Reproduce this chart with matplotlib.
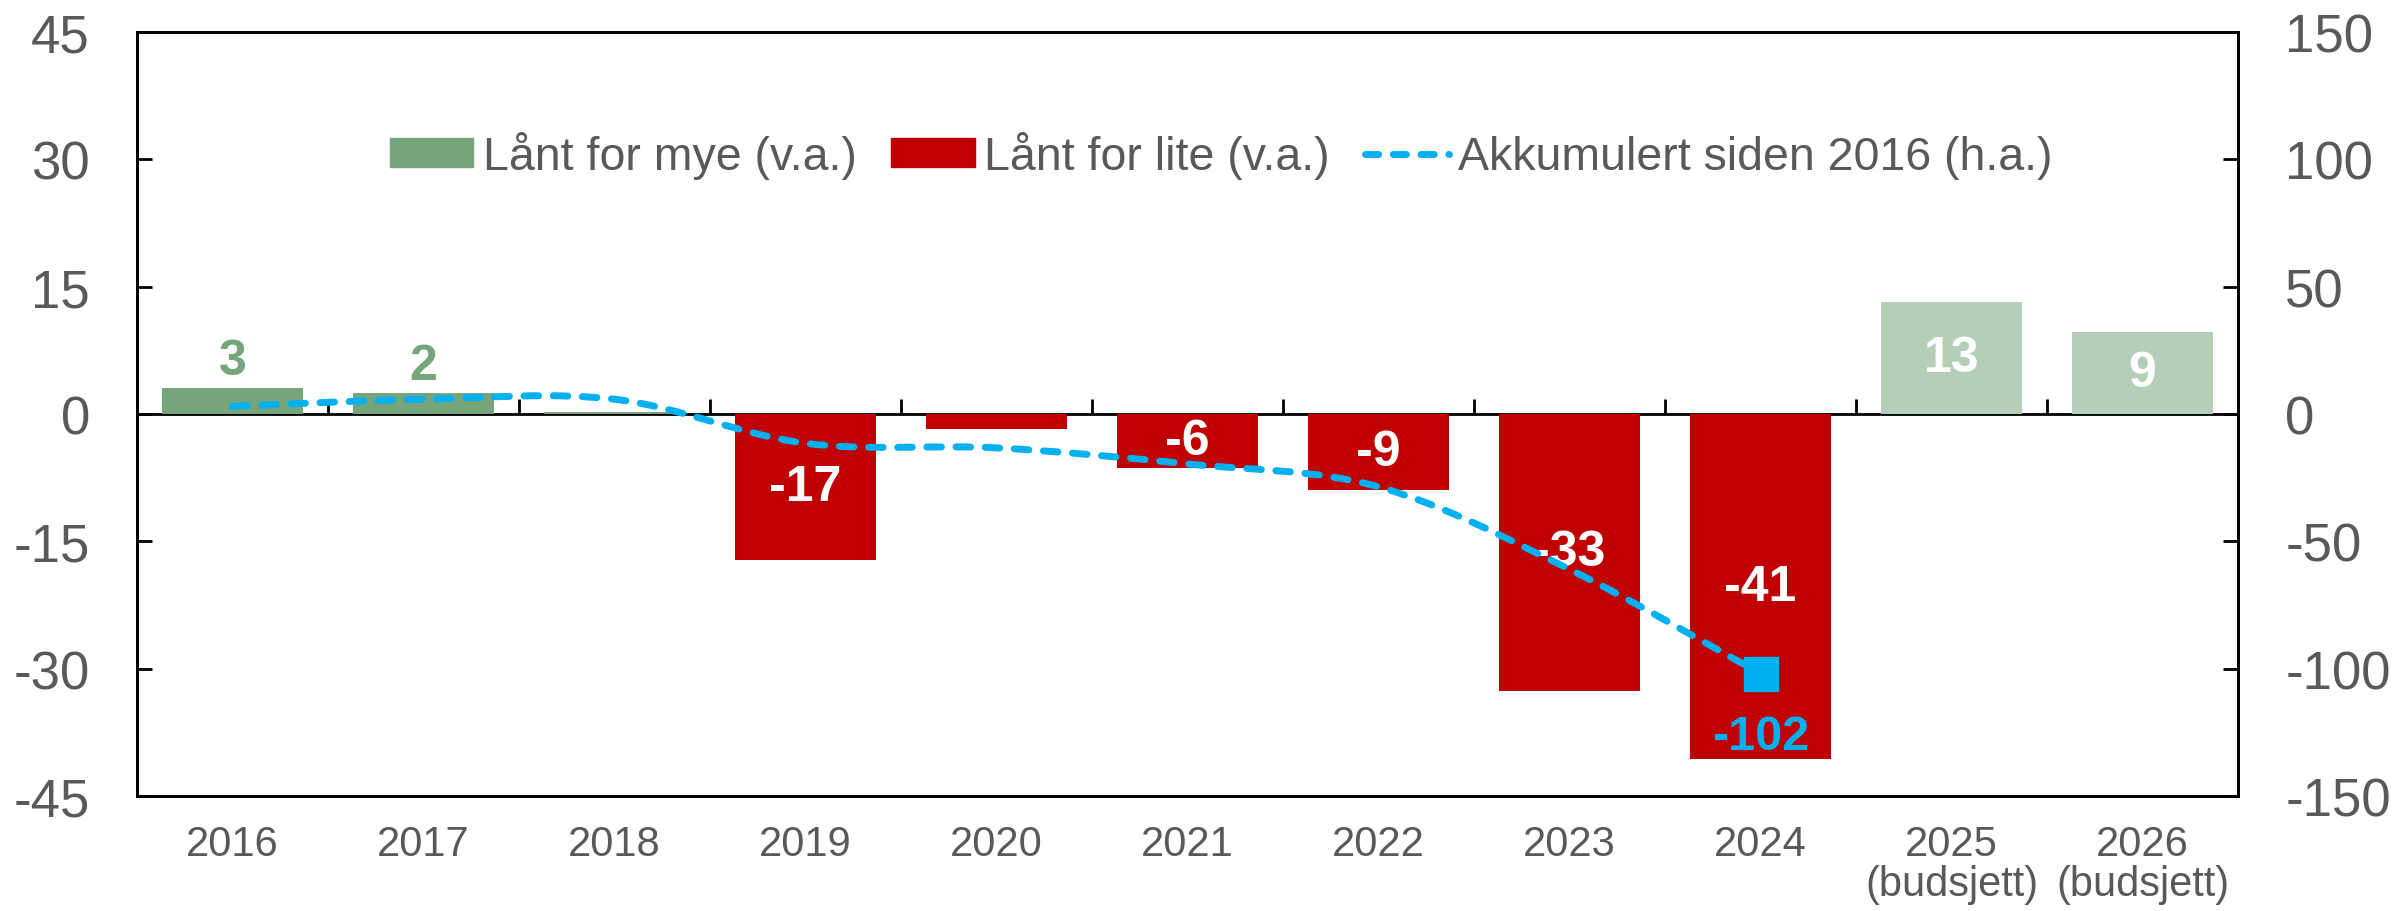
import numpy as np
import matplotlib
matplotlib.use("Agg")
import matplotlib.pyplot as plt
from matplotlib.path import Path
from matplotlib.patches import PathPatch
from matplotlib.lines import Line2D

plt.rcParams['font.family'] = ['Liberation Sans', 'DejaVu Sans']
plt.rcParams['axes.unicode_minus'] = False

years = ["2016", "2017", "2018", "2019", "2020", "2021", "2022", "2023", "2024",
         "2025\n(budsjett)", "2026\n(budsjett)"]
# lånt for mye (v.a.)
mye_vals = [3.1, 2.5, 0.2, 0, 0, 0, 0, 0, 0, 0, 0]
mye_labels = ["3", "2", "", "", "", "", "", "", "", "", ""]
# lånt for lite (v.a.)
lite_vals = [0, 0, 0, -17.2, -1.8, -6.4, -9.0, -32.6, -40.7, 0, 0]
lite_labels = ["", "", "", "-17", "", "-6", "-9", "-33", "-41", "", ""]
# budsjett
budsjett_vals = [0, 0, 0, 0, 0, 0, 0, 0, 0, 13.2, 9.7]
budsjett_labels = ["", "", "", "", "", "", "", "", "", "13", "9"]
# akkumulert siden 2016 (h.a.)
akk_vals = [3.0, 5.8, 5.8, -11.5, -13.3, -19.6, -28.6, -61.0, -102.0]
akk_label = "-102"

GREEN = "#76A57B"
LIGHT = "#B4CEB7"
RED = "#C00000"
CYAN = "#00B0F0"
GREY = "#595959"

fig = plt.figure(figsize=(23.96, 9.12), dpi=100)
ax = fig.add_axes([0.0572, 0.1261, 0.8769, 0.8377])
ax2 = ax.twinx()

x = np.arange(len(years))
w = 0.74
b1 = ax.bar(x, mye_vals, w, color=GREEN, zorder=2)
b2 = ax.bar(x, lite_vals, w, color=RED, zorder=2)
b3 = ax.bar(x, budsjett_vals, w, color=LIGHT, zorder=2)

ax.bar_label(b1, labels=mye_labels, padding=3, color=GREEN, fontsize=36, fontweight='bold')
ax.bar_label(b2, labels=lite_labels, label_type='center', color='white', fontsize=36, fontweight='bold')
ax.bar_label(b3, labels=budsjett_labels, label_type='center', color='white', fontsize=36, fontweight='bold')

ax.set_xlim(-0.5, len(years) - 0.5)
ax.set_ylim(-45, 45)
ax.set_yticks(np.arange(-45, 46, 15))
ax2.set_ylim(-150, 150)
ax2.set_yticks(np.arange(-150, 151, 50))

ax.set_xticks(x)
ax.set_xticklabels(years, linespacing=1.0)
ax.tick_params(axis='x', length=0, pad=20, labelsize=30, labelcolor=GREY)
ax.tick_params(axis='y', direction='in', length=11, width=2, pad=34, labelsize=38, labelcolor=GREY)
ax2.tick_params(axis='y', direction='in', length=11, width=2, pad=34, labelsize=38, labelcolor=GREY)

for a in (ax, ax2):
    for s in a.spines.values():
        s.set_linewidth(2)
        s.set_color('black')

# nullinje med streker mellom kategoriene
zero = ax.secondary_xaxis(0, transform=ax.transData)
zero.set_xticks(np.arange(len(years) - 1) + 0.5)
zero.tick_params(direction='in', length=11, width=2, labelbottom=False)
zero.spines['bottom'].set_linewidth(2)

# glattet linje (h.a.)
pts = np.column_stack([x[:len(akk_vals)], akk_vals])
verts = [tuple(pts[0])]
codes = [Path.MOVETO]
for i in range(len(pts) - 1):
    p0 = pts[max(i - 1, 0)]
    p1 = pts[i]
    p2 = pts[i + 1]
    p3 = pts[min(i + 2, len(pts) - 1)]
    c1 = p1 + (p2 - p0) / 6
    c2 = p2 - (p3 - p1) / 6
    verts += [tuple(c1), tuple(c2), tuple(p2)]
    codes += [Path.CURVE4] * 3
ax2.add_patch(PathPatch(Path(verts, codes), fill=False, edgecolor=CYAN, lw=5,
                        linestyle=(0, (2.1, 2.1)), capstyle='round', zorder=3))
ax2.plot(x[len(akk_vals) - 1], akk_vals[-1], 's', color=CYAN, markersize=24, zorder=4)
ax2.annotate(akk_label, (x[len(akk_vals) - 1], akk_vals[-1]), xytext=(0, -45),
             textcoords='offset points', ha='center', va='center',
             color=CYAN, fontsize=35, fontweight='bold')

handles = [plt.Rectangle((0, 0), 1, 1, color=GREEN),
           plt.Rectangle((0, 0), 1, 1, color=RED),
           Line2D([], [], color=CYAN, lw=5, linestyle=(0, (1.9, 2.1)), dash_capstyle='round')]
leg = fig.legend(handles, ["Lånt for mye (v.a.)", "Lånt for lite (v.a.)", "Akkumulert siden 2016 (h.a.)"],
                 loc='center', bbox_to_anchor=(0.5096, 0.829), ncol=3, frameon=False,
                 fontsize=33.5, handlelength=1.8, handleheight=0.55, handletextpad=0.2,
                 columnspacing=0.75)
for t in leg.get_texts():
    t.set_color(GREY)

fig.savefig("out.png", dpi=100)
